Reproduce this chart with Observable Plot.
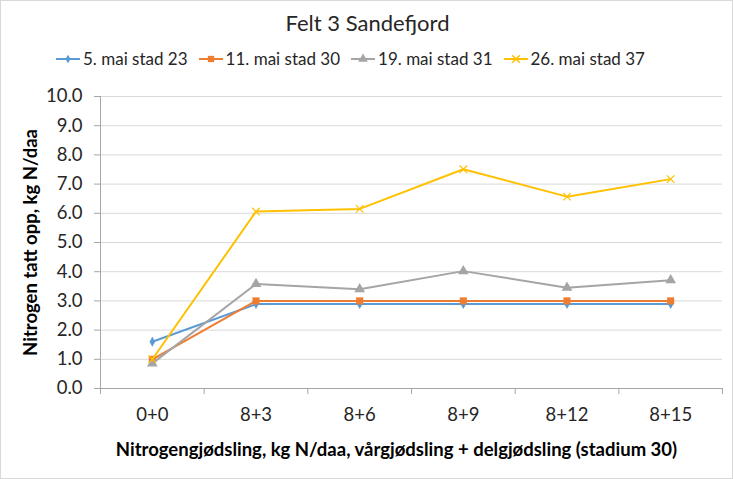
<!DOCTYPE html>
<html><head><meta charset="utf-8">
<script src="https://cdn.jsdelivr.net/npm/d3@7"></script>
<script src="https://cdn.jsdelivr.net/npm/@observablehq/plot@0.6"></script>
<style>
body{margin:0;background:#fff;font-family:Lato,"Noto Sans",sans-serif}
#wrap{position:relative;width:731px;height:477px;border:1px solid #d9d9d9;overflow:hidden;background:#fff}
#title{position:absolute;top:8px;left:0;width:733px;text-align:center;font-size:22px;line-height:28px;color:#262626}
#legend{position:absolute;top:47px;left:54px;display:flex;gap:0;font-size:17px;color:#262626;white-space:nowrap}
#legend .item{display:flex;align-items:center;margin-right:10px}
#legend svg{margin-right:2px}
#chart{position:absolute;left:0;top:80px}
#chart svg{overflow:visible}
#chart svg g[aria-label*="tick label"], #chart svg g[aria-label*="tick label"] text{font-size:18.5px !important;font-family:Lato,"Noto Sans",sans-serif !important}
</style></head>
<body>
<div id="wrap">
  <div id="title"></div>
  <div id="legend"></div>
  <div id="chart"></div>
</div>
<script>
const titleText = "Felt 3 Sandefjord";
const categories = ["0+0","8+3","8+6","8+9","8+12","8+15"];
const seriesNames = ["5. mai stad 23","11. mai stad 30","19. mai stad 31","26. mai stad 37"];
const seriesColors = ["#5b9bd5","#ed7d31","#a5a5a5","#ffc000"];
const seriesSymbols = ["diamond","square","triangle","times"];
const mai5 = [1.60, 2.89, 2.89, 2.89, 2.89, 2.89];
const mai11 = [1.00, 3.00, 3.00, 3.00, 3.00, 3.00];
const mai19 = [0.86, 3.58, 3.40, 4.02, 3.45, 3.71];
const mai26 = [1.00, 6.06, 6.15, 7.51, 6.57, 7.17];
const yTicks = [0,1,2,3,4,5,6,7,8,9,10];
const yTitle = "Nitrogen tatt opp, kg N/daa";
const xTitle = "Nitrogengjødsling, kg N/daa, vårgjødsling + delgjødsling (stadium 30)";

const seriesValues = [mai5, mai11, mai19, mai26];
const data = [];
seriesValues.forEach((vals, s) => vals.forEach((v, i) => data.push({series: seriesNames[s], i, value: v})));

document.getElementById("title").textContent = titleText;

// legend
const legend = document.getElementById("legend");
seriesNames.forEach((name, s) => {
  const item = document.createElement("div");
  item.className = "item";
  const sym = d3.symbol(d3[{diamond:"symbolDiamond",square:"symbolSquare",triangle:"symbolTriangle",times:"symbolTimes"}[seriesSymbols[s]]], s===0?22:40)();
  const filled = seriesSymbols[s] !== "times";
  item.innerHTML = `<svg width="26" height="14"><line x1="1" x2="25" y1="7" y2="7" stroke="${seriesColors[s]}" stroke-width="2"/>` +
    `<path transform="translate(13,7)" d="${sym}" fill="${filled ? seriesColors[s] : "none"}" stroke="${seriesColors[s]}" stroke-width="${filled?0:1.5}"/></svg><span>${name}</span>`;
  legend.appendChild(item);
});

const xDomain = [-0.5, categories.length - 0.5];
const xBoundaries = d3.range(categories.length + 1).map(i => i - 0.5);
const axisColor = "#a6a6a6";
const font = "Lato, 'Noto Sans', sans-serif";

const chart = Plot.plot({
  width: 731, height: 397,
  marginLeft: 99, marginRight: 10, marginTop: 15, marginBottom: 90,
  style: {fontFamily: font, fontSize: "18px", color: "#262626", background: "transparent", overflow: "visible"},
  x: {type: "linear", domain: xDomain},
  y: {domain: [0, 10]},
  color: {domain: seriesNames, range: seriesColors},
  symbol: {domain: seriesNames, range: seriesSymbols},
  marks: [
    Plot.gridY(yTicks.slice(1), {stroke: "#d9d9d9", strokeOpacity: 1, strokeWidth: 1}),
    Plot.axisY(yTicks, {tickFormat: d => d.toFixed(1), tickSize: 6, tickPadding: 12, stroke: axisColor, fill: "#262626", fontSize: 18, label: null}),
    Plot.axisX(xBoundaries, {tickFormat: () => "", tickSize: 6, stroke: axisColor, label: null}),
    Plot.axisX(d3.range(categories.length), {tickFormat: i => categories[i], tickSize: 0, tickPadding: 19, fill: "#262626", fontSize: 18, label: null}),
    Plot.ruleX([xDomain[0]], {stroke: axisColor, strokeWidth: 1}),
    Plot.ruleY([0], {stroke: axisColor, strokeWidth: 1}),
    ...seriesNames.map((name, s) => [
      Plot.line(data.filter(d => d.series === name), {x: "i", y: "value", stroke: "series", strokeWidth: 2}),
      seriesSymbols[s] === "times"
        ? Plot.dot(data.filter(d => d.series === name), {x: "i", y: "value", stroke: "series", symbol: "series", r: 3.5, strokeWidth: 1.2})
        : Plot.dot(data.filter(d => d.series === name), {x: "i", y: "value", fill: "series", symbol: "series", r: s === 0 ? 3 : 4, stroke: "none"})
    ]).flat(),
    Plot.text([yTitle], {frameAnchor: "left", textAnchor: "middle", lineAnchor: "middle", rotate: -90, dx: -69, dy: 0, fontWeight: "bold", fontSize: 18.5, fontFamily: font, fill: "#000"}),
    Plot.text([xTitle], {frameAnchor: "bottom", textAnchor: "middle", lineAnchor: "middle", dy: 62, dx: -15, fontWeight: "bold", fontSize: 18.5, fontFamily: font, fill: "#000"})
  ]
});
document.getElementById("chart").appendChild(chart);
</script>
</body></html>
